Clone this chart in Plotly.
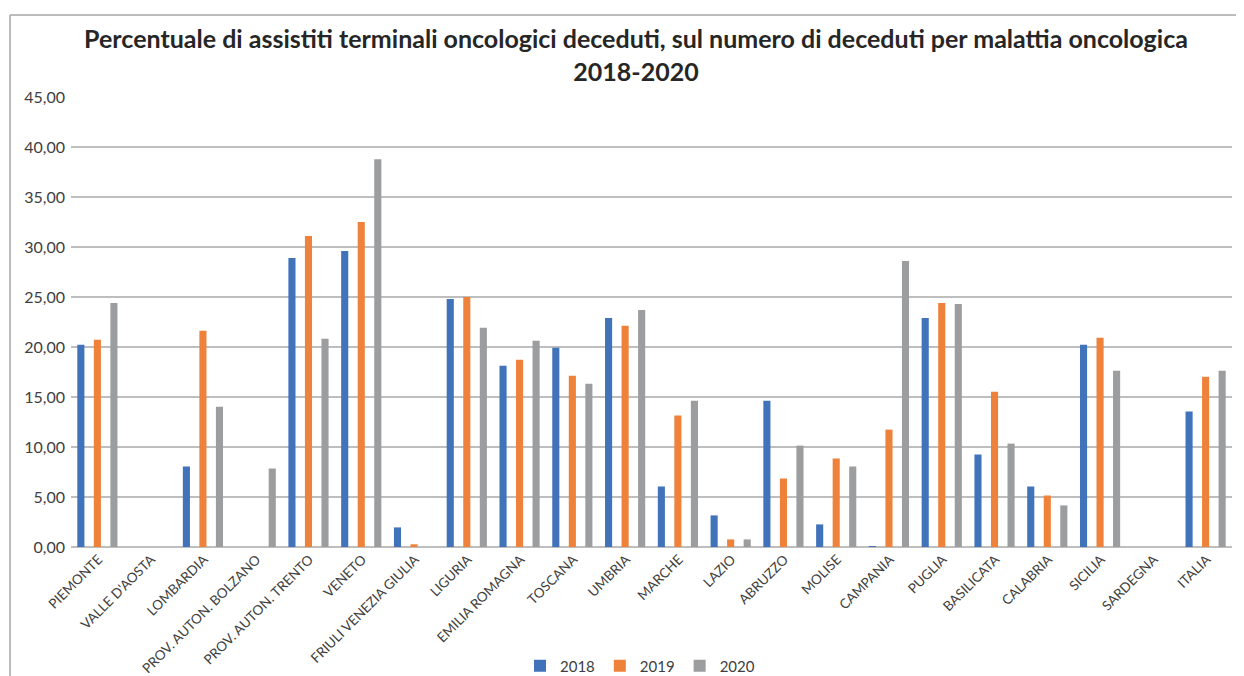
import plotly.graph_objects as go

# regions and values (None = no bar)
regioni = ["PIEMONTE", "VALLE D'AOSTA", "LOMBARDIA", "PROV. AUTON. BOLZANO",
           "PROV. AUTON. TRENTO", "VENETO", "FRIULI VENEZIA GIULIA", "LIGURIA",
           "EMILIA ROMAGNA", "TOSCANA", "UMBRIA", "MARCHE", "LAZIO", "ABRUZZO",
           "MOLISE", "CAMPANIA", "PUGLIA", "BASILICATA", "CALABRIA", "SICILIA",
           "SARDEGNA", "ITALIA"]

v2018 = [20.22, None, 8.05, None, 28.90, 29.60, 1.96, 24.81, 18.12, 19.92, 22.91,
         6.05, 3.16, 14.63, 2.26, 0.07, 22.91, 9.25, 6.05, 20.22, None, 13.54]
v2019 = [20.72, None, 21.62, None, 31.09, 32.49, 0.27, 25.01, 18.72, 17.13, 22.12,
         13.14, 0.76, 6.85, 8.85, 11.74, 24.41, 15.53, 5.15, 20.92, None, 17.03]
v2020 = [24.41, None, 14.03, 7.85, 20.82, 38.78, None, 21.92, 20.62, 16.33, 23.71,
         14.63, 0.76, 10.14, 8.05, 28.60, 24.31, 10.34, 4.16, 17.63, None, 17.63]

anni = ["2018", "2019", "2020"]
colori = ["#4173BB", "#EF823B", "#9B9D9E"]

fig = go.Figure()
for anno, valori, col in zip(anni, [v2018, v2019, v2020], colori):
    fig.add_trace(go.Bar(x=regioni, y=valori, name=anno, marker_color=col,
                         marker_line_width=0))

# the page body adds an 8px offset, so positions below are shifted by 8
OFF = 8
W, H = 1244, 676
ml, mr, mt, mb = 71 - OFF, 12 + OFF, 97 - OFF, 129 + OFF


def px_x(p):
    return (p - OFF - ml) / (W - ml - mr)


def px_y(p):
    return (H - mb - (p - OFF)) / (H - mt - mb)


grigio = "#BEBEBE"

fig.update_layout(
    width=W, height=H,
    margin=dict(l=ml, r=mr, t=mt, b=mb, autoexpand=False),
    paper_bgcolor="white", plot_bgcolor="white",
    separators=",.",
    barmode="group", bargap=0.06, bargroupgap=0.57,
    font=dict(family="Lato, 'Open Sans', sans-serif", color="#404040"),
    title=dict(
        text="<b>Percentuale di assistiti terminali oncologici deceduti, sul numero di deceduti per malattia oncologica<br>2018-2020</b>",
        x=px_x(636), xanchor="center", xref="paper",
        y=1 - (48 - OFF) / H, yref="container", yanchor="top",
        font=dict(size=25, color="#262626", family="Lato, 'Open Sans', sans-serif"),
    ),
    xaxis=dict(tickangle=-45, tickfont=dict(size=13.5, color="#404040"),
               showgrid=False, showline=False, ticks="", ticklabelshift=1,
               ticklabelstandoff=1),
    yaxis=dict(range=[0, 45], dtick=5, tickformat=".2f",
               tickfont=dict(size=16, color="#404040"),
               showgrid=True, gridcolor=grigio, gridwidth=2,
               zeroline=True, zerolinecolor=grigio, zerolinewidth=2,
               showline=False, ticks="", ticklabelstandoff=5),
    legend=dict(orientation="h", x=px_x(640), xanchor="center",
                y=px_y(666), yanchor="middle",
                font=dict(size=15, color="#404040"), itemwidth=30,
                traceorder="normal"),
    showlegend=True,
)

# outer frame of the original chart box
fig.add_shape(type="line", xref="paper", yref="paper",
              x0=px_x(10), x1=px_x(10), y0=px_y(15), y1=px_y(690),
              line=dict(color="#A6A6A6", width=1.5))
fig.add_shape(type="line", xref="paper", yref="paper",
              x0=px_x(10), x1=px_x(1260), y0=px_y(15), y1=px_y(15),
              line=dict(color="#A6A6A6", width=1.5))

fig.write_html("out.html")
